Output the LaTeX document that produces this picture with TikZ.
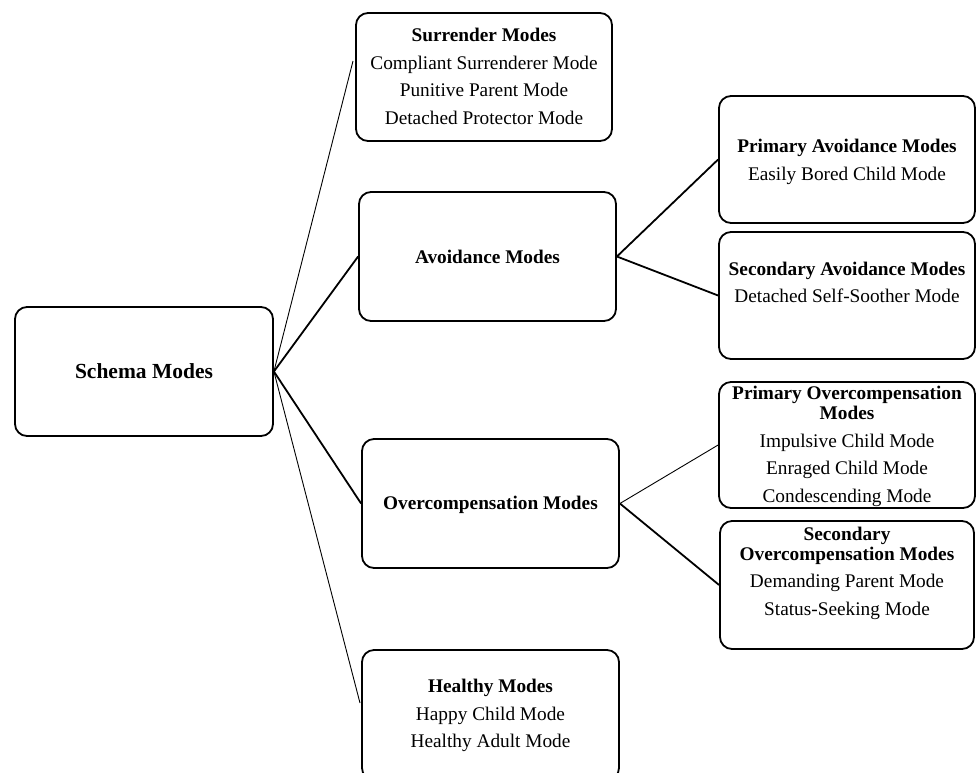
\documentclass[tikz,border=0pt]{standalone}
\usepackage{fontspec}
\setmainfont{Liberation Serif}
\begin{document}
\begin{tikzpicture}[x=1pt,y=-1pt]
\tikzset{
  box/.style={draw, line width=1.8pt, rounded corners=12pt, inner sep=0pt},
  txt/.style={align=center, inner sep=0pt, anchor=base, font=\fontsize{19.3}{20}\selectfont},
  boldlink/.style={line width=1.8pt},
  thinlink/.style={line width=0.9pt}
}
\useasboundingbox (0,0) rectangle (976,772);
\clip (0,0) rectangle (976,772);
% boxes
\node[box, minimum width=258pt, minimum height=129pt] (S) at (144,371.5) {};
\node[box, minimum width=256pt, minimum height=128pt] (Sur) at (484,77) {};
\node[box, minimum width=257pt, minimum height=129pt] (Av) at (487.5,256.5) {};
\node[box, minimum width=257pt, minimum height=129pt] (Ov) at (490.5,503.5) {};
\node[box, minimum width=257pt, minimum height=130pt] (He) at (490.5,715) {};
\node[box, minimum width=256pt, minimum height=127pt] (PA) at (847,159.5) {};
\node[box, minimum width=256pt, minimum height=127pt] (SA) at (847,295.5) {};
\node[box, minimum width=256pt, minimum height=126pt] (PO) at (847,445) {};
\node[box, minimum width=254pt, minimum height=128pt] (SO) at (847,585) {};
% texts (anchor base = baseline of the last line)
\node[txt, font=\fontsize{21.5}{24}\selectfont] (Stxt) at (144,378) {\textbf{Schema Modes}};
\node[txt] (Surtxt) at (484,124) {\textbf{Surrender Modes}\\[7.4pt]Compliant Surrenderer Mode\\[7.4pt]Punitive Parent Mode\\[7.4pt]Detached Protector Mode};
\node[txt] (Avtxt) at (487.5,263) {\textbf{Avoidance Modes}};
\node[txt] (Ovtxt) at (490.5,509.5) {\textbf{Overcompensation Modes}};
\node[txt] (Hetxt) at (490.5,747.5) {\textbf{Healthy Modes}\\[7.4pt]Happy Child Mode\\[7.4pt]Healthy Adult Mode};
\node[txt] (PAtxt) at (847,180) {\textbf{Primary Avoidance Modes}\\[7.4pt]Easily Bored Child Mode};
\node[txt] (SAtxt) at (847,302.5) {\textbf{Secondary Avoidance Modes}\\[7.4pt]Detached Self-Soother Mode};
\node[txt] (POtxt) at (847,502) {\textbf{Primary Overcompensation}\\\textbf{Modes}\\[7.4pt]Impulsive Child Mode\\[7.4pt]Enraged Child Mode\\[7.4pt]Condescending Mode};
\node[txt] (SOtxt) at (847,615) {\textbf{Secondary}\\\textbf{Overcompensation Modes}\\[7.4pt]Demanding Parent Mode\\[7.4pt]Status-Seeking Mode};
% connectors
\coordinate (surin) at (353,61);
\coordinate (hein) at (360,703);
\draw[thinlink] (S.east) -- (surin);
\draw[boldlink] (S.east) -- (Av.west);
\draw[boldlink] (S.east) -- (Ov.west);
\draw[thinlink] (S.east) -- (hein);
\draw[boldlink] (Av.east) -- (PA.west);
\draw[boldlink] (Av.east) -- (SA.west);
\draw[thinlink] (Ov.east) -- (PO.west);
\draw[boldlink] (Ov.east) -- (SO.west);
\end{tikzpicture}
\end{document}
